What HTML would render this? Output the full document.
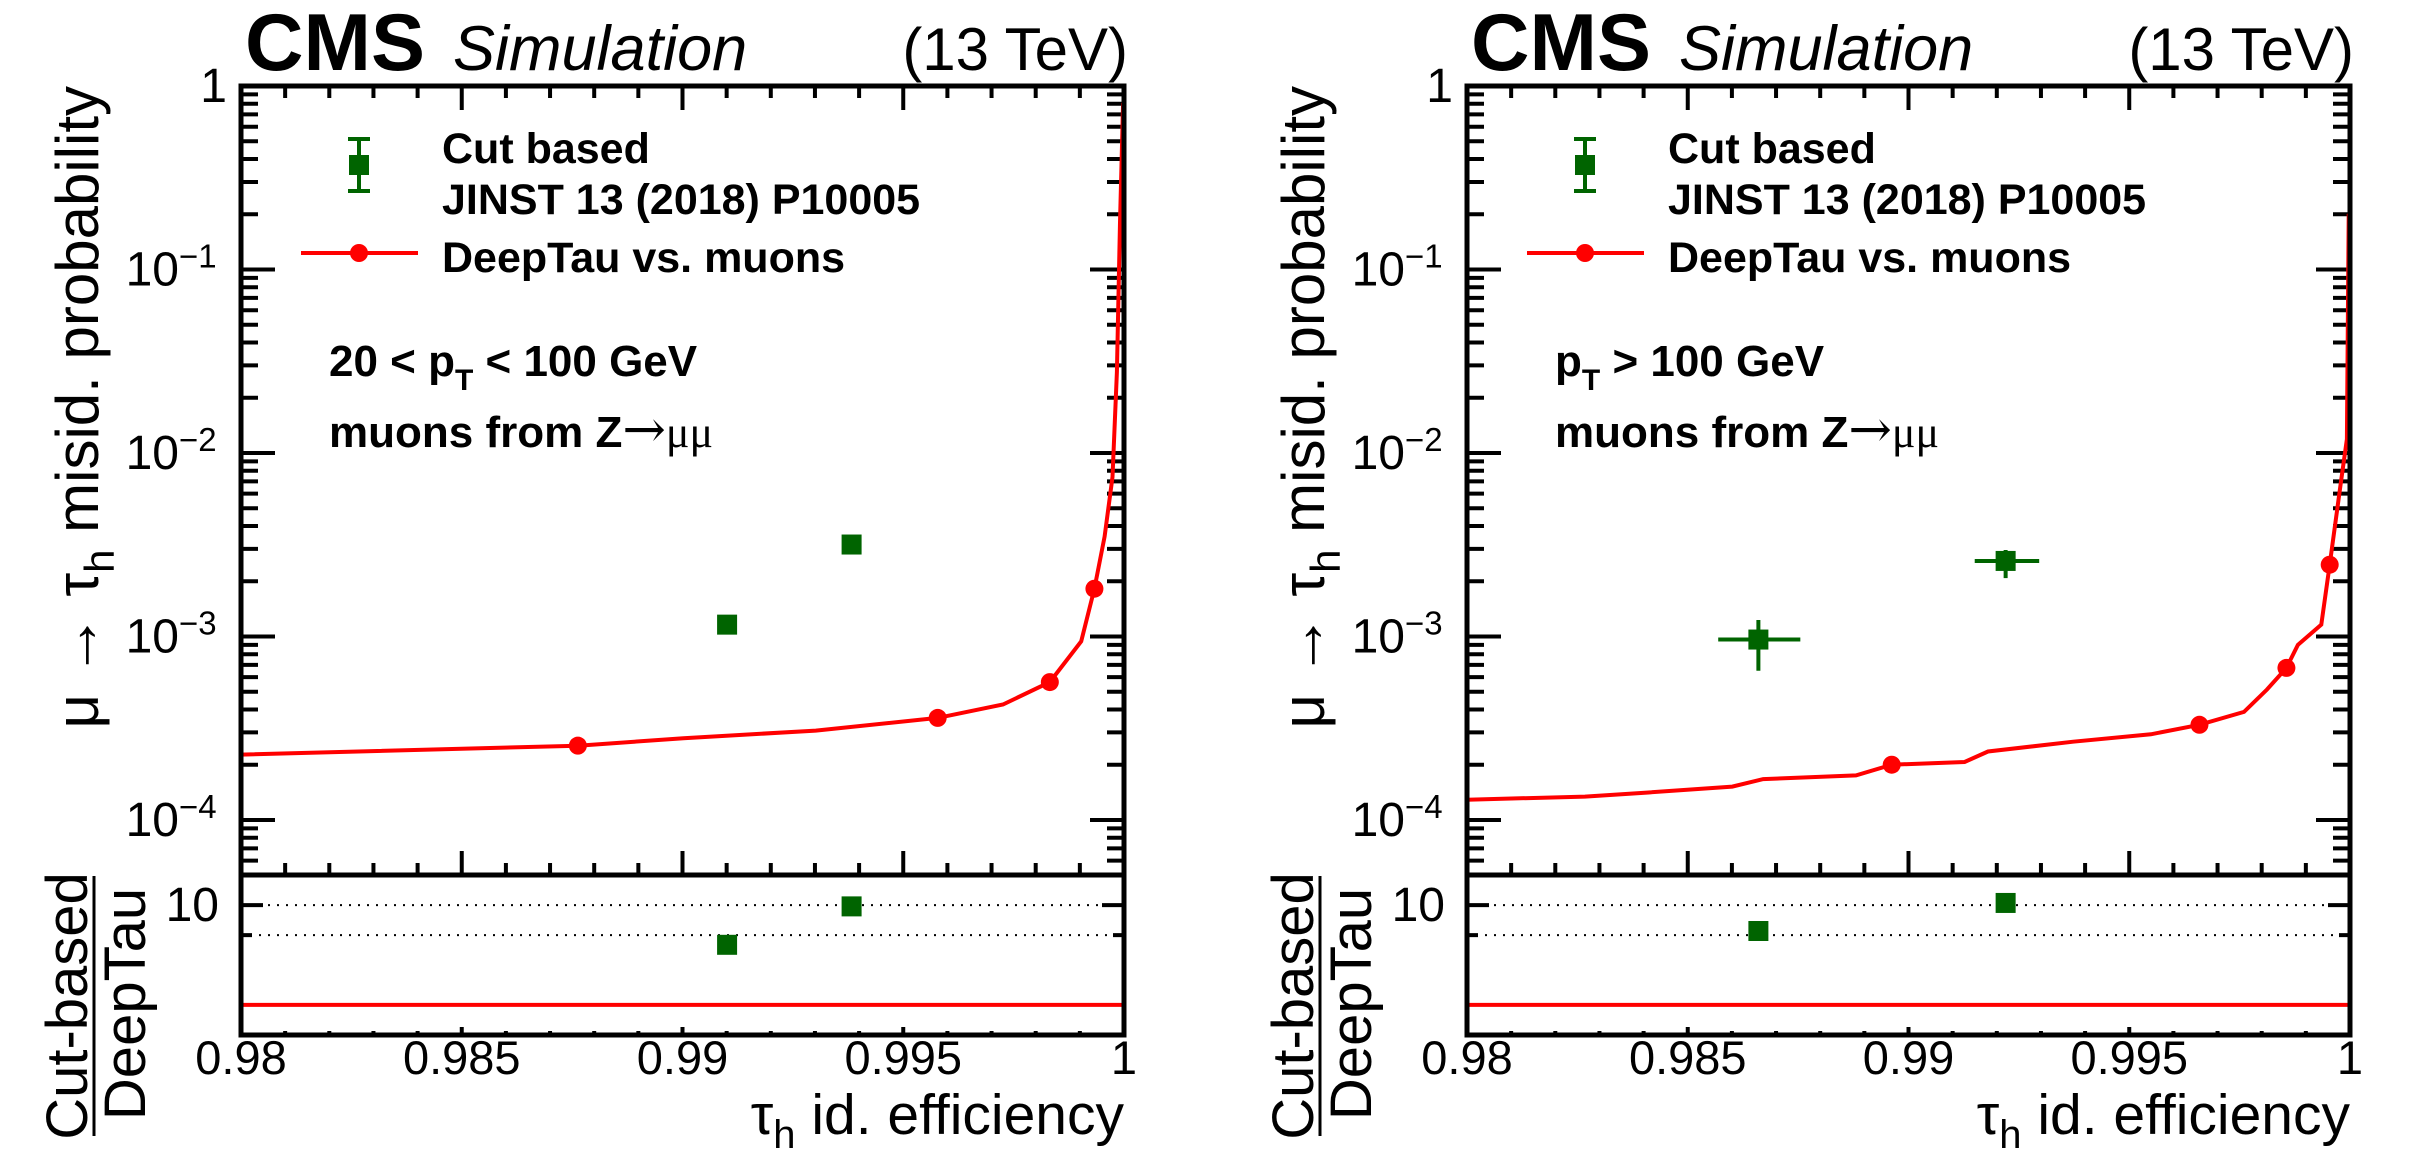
<!DOCTYPE html>
<html><head><meta charset="utf-8"><style>
html,body{margin:0;padding:0;background:#fff;}
svg{display:block;font-family:"Liberation Sans",Arial,sans-serif;}
</style></head>
<body>
<svg id="fig" width="2435" height="1167" viewBox="0 0 2435 1167" xmlns="http://www.w3.org/2000/svg"></svg>
<script>
// ---- data: left panel (20 < pT < 100 GeV)
const leftCurveEff = [0.98,0.98763,0.99002,0.99302,0.99578,0.99726,0.99832,0.99903,0.99933,0.99956,0.99974,0.99984,0.99991,0.99998];
const leftCurveVal = [2.27e-4,2.54e-4,2.79e-4,3.07e-4,3.60e-4,4.26e-4,5.64e-4,9.4e-4,1.82e-3,3.5e-3,7.4e-3,0.0276,0.18,0.81];
const leftMarkEff = [0.98763,0.99578,0.99832,0.99933];
const leftMarkVal = [2.54e-4,3.60e-4,5.64e-4,1.82e-3];
const leftCutEff = [0.99101,0.99383];
const leftCutVal = [1.16e-3,3.17e-3];
const leftCutXLo = [0.99101,0.99383];
const leftCutXHi = [0.99101,0.99383];
const leftCutYLo = [1.16e-3,3.17e-3];
const leftCutYHi = [1.16e-3,3.17e-3];
const leftRatio = [4.0,9.7];
// ---- data: right panel (pT > 100 GeV)
const rightCurveEff = [0.98,0.98267,0.98407,0.98601,0.98671,0.98881,0.98962,0.99127,0.99180,0.99373,0.99549,0.99659,0.99760,0.99812,0.99856,0.99882,0.99935,0.99954,0.99979,0.99993,0.99997,1.0];
const rightCurveVal = [1.29e-4,1.34e-4,1.41e-4,1.52e-4,1.67e-4,1.75e-4,2.0e-4,2.07e-4,2.36e-4,2.67e-4,2.93e-4,3.30e-4,3.88e-4,5.14e-4,6.74e-4,9.0e-4,1.16e-3,2.46e-3,6.8e-3,0.0119,0.198,0.2];
const rightMarkEff = [0.98962,0.99659,0.99856,0.99954];
const rightMarkVal = [2.0e-4,3.30e-4,6.74e-4,2.46e-3];
const rightCutEff = [0.98660,0.99220];
const rightCutVal = [9.62e-4,2.58e-3];
const rightCutXLo = [0.98569,0.99150];
const rightCutXHi = [0.98755,0.99296];
const rightCutYLo = [6.5e-4,2.08e-3];
const rightCutYHi = [1.23e-3,2.96e-3];
const rightRatio = [5.5,10.5];
// ---- axis tick labels
const xTickVals = [0.98,0.985,0.99,0.995,1];
const xTickLabels = ["0.98","0.985","0.99","0.995","1"];
const yDecades = [0,-1,-2,-3,-4];
const ratioLines = [10,5];

const NS="http://www.w3.org/2000/svg";
const svg=document.getElementById('fig');
function mk(tag,attrs,parent){const e=document.createElementNS(NS,tag);for(const k in attrs)e.setAttribute(k,attrs[k]);(parent||svg).appendChild(e);return e;}

const W=883, TOP=86, MB=875, RB=1035;
const Y_MIN=-4.3, Y_MAX=0;
const R_MIN=Math.log10(0.5), R_MAX=Math.log10(20);

function panel(x0,name,curveE,curveV,markE,markV,cutE,cutV,xlo,xhi,ylo,yhi,ratio,ptLabel){
  const g=mk('g',{});
  
  
  const X=e=>x0+(e-0.98)/0.02*W;
  const Y=v=>TOP+(Y_MAX-Math.log10(v))/(Y_MAX-Y_MIN)*(MB-TOP);
  const R=v=>MB+(R_MAX-Math.log10(v))/(R_MAX-R_MIN)*(RB-MB);
  const x1=x0+W;
  // header
  let t=mk('text',{x:x0+4,y:70,'font-size':81,'font-weight':'bold'},g);t.textContent='CMS';
  
  t=mk('text',{x:x0+212,y:70,'font-size':63,'font-style':'italic'},g);t.textContent='Simulation';
  
  t=mk('text',{x:x1+4,y:70,'font-size':60,'text-anchor':'end'},g);t.textContent='(13 TeV)';
  
  // ticks main
  const tk=mk('g',{stroke:'#000','stroke-width':4},g);
  
  for(let d=-5; d<=0; d++){
    for(let m=1;m<=9;m++){
      const v=m*Math.pow(10,d); const lv=Math.log10(v);
      if(lv<Y_MIN-1e-6||lv>Y_MAX+1e-6) continue;
      const y=Y(v); const L=(m===1)?34:17;
      mk('line',{x1:x0,y1:y,x2:x0+L,y2:y},tk);
      mk('line',{x1:x1,y1:y,x2:x1-L,y2:y},tk);
    }
  }
  for(let i=0;i<=20;i++){
    const x=x0+i*W/20; const L=(i%5===0)?24:12;
    mk('line',{x1:x,y1:MB,x2:x,y2:MB-L},tk);
    mk('line',{x1:x,y1:TOP,x2:x,y2:TOP+L},tk);
    mk('line',{x1:x,y1:RB,x2:x,y2:RB-L/3},tk);
  }
  ratioLines.forEach((v,i)=>{
    const y=R(v); const L=i===0?22:11;
    mk('line',{x1:x0,y1:y,x2:x0+L,y2:y},tk);
    mk('line',{x1:x1,y1:y,x2:x1-L,y2:y},tk);
    const dl=mk('line',{x1:x0,y1:y,x2:x1,y2:y,stroke:'#000','stroke-width':2,'stroke-dasharray':'2,7'},g);
    
  });
  // y labels
  yDecades.forEach(d=>{
    const y=Y(Math.pow(10,d));
    const tt=mk('text',{x:x0-14,y:y+16,'font-size':48,'text-anchor':'end'},g);
    
    if(d===0){tt.textContent='1';}
    else{
      tt.setAttribute('x',x0-62);
      tt.textContent='10';
      const s=mk('text',{x:x0-62,y:y-2,'font-size':33,'text-anchor':'start'},g);
      s.textContent='\u2212'+(-d);
      
    }
  });
  t=mk('text',{x:x0-22,y:R(10)+16,'font-size':48,'text-anchor':'end'},g);t.textContent='10';
  
  xTickVals.forEach((v,i)=>{
    const tt=mk('text',{x:X(v),y:1074,'font-size':47,'text-anchor':'middle'},g);
    tt.textContent=xTickLabels[i];
    
  });
  // axis titles
  t=mk('text',{x:x1,y:1134,'font-size':57,'text-anchor':'end'},g);
  t.innerHTML='\u03c4<tspan font-size="40" dy="14">h</tspan><tspan dy="-14"> id. efficiency</tspan>';
  
  t=mk('text',{x:0,y:0,'font-size':60,'text-anchor':'end',transform:`translate(${x0-143},${TOP}) rotate(-90)`},g);
  t.innerHTML='\u03bc <tspan font-size="64">\u2192</tspan> \u03c4<tspan font-size="42" dy="16">h</tspan><tspan dy="-16"> misid. probability</tspan>';
  
  t=mk('text',{x:0,y:0,'font-size':58,'text-anchor':'middle',transform:`translate(${x0-154},1006) rotate(-90)`},g);
  t.textContent='Cut-based';
  mk('line',{x1:x0-147,y1:876,x2:x0-147,y2:1136,stroke:'#000','stroke-width':3},g);
  t=mk('text',{x:0,y:0,'font-size':58,'text-anchor':'middle',transform:`translate(${x0-96},1004) rotate(-90)`},g);
  t.textContent='DeepTau';
  // deeptau curve
  const pts=curveE.map((e,i)=>X(e).toFixed(1)+','+Y(curveV[i]).toFixed(1)).join(' ');
  const pl=mk('polyline',{points:pts,fill:'none',stroke:'#ff0000','stroke-width':4},g);
  
  markE.forEach((e,i)=>{
    const c=mk('circle',{cx:X(e),cy:Y(markV[i]),r:9,fill:'#ff0000'},g);
    
  });
  // cut based points
  cutE.forEach((e,i)=>{
    const cg=mk('g',{stroke:'#006400','stroke-width':4},g);
    
    const cx=X(e), cy=Y(cutV[i]);
    if(xhi[i]>xlo[i]){mk('line',{x1:X(xlo[i]),y1:cy,x2:X(xhi[i]),y2:cy},cg);}
    if(yhi[i]>ylo[i]){mk('line',{x1:cx,y1:Y(ylo[i]),x2:cx,y2:Y(yhi[i])},cg);}
    mk('rect',{x:cx-10,y:cy-10,width:20,height:20,fill:'#006400',stroke:'none'},cg);
    const ry=R(ratio[i]);
    const rr=mk('rect',{x:cx-10,y:ry-10,width:20,height:20,fill:'#006400'},g);
    
  });
  const rl=mk('line',{x1:x0,y1:R(1),x2:x1,y2:R(1),stroke:'#ff0000','stroke-width':4},g);
  
  // frames
  let f=mk('rect',{x:x0,y:TOP,width:W,height:MB-TOP,fill:'none',stroke:'#000','stroke-width':5},g);
  
  f=mk('rect',{x:x0,y:MB,width:W,height:RB-MB,fill:'none',stroke:'#000','stroke-width':5},g);
  
  // legend
  const lg=mk('g',{},g);
  const lx=x0+118;
  const e1=mk('g',{stroke:'#006400','stroke-width':4},lg);
  
  mk('line',{x1:lx,y1:138,x2:lx,y2:192},e1);mk('line',{x1:lx-11,y1:139,x2:lx+11,y2:139},e1);mk('line',{x1:lx-11,y1:191,x2:lx+11,y2:191},e1);
  mk('rect',{x:lx-10,y:155,width:20,height:20,fill:'#006400',stroke:'none'},e1);
  t=mk('text',{x:x0+201,y:163,'font-size':43,'font-weight':'bold'},lg);t.textContent='Cut based';
  
  t=mk('text',{x:x0+201,y:214,'font-size':43,'font-weight':'bold'},lg);t.textContent='JINST 13 (2018) P10005';
  
  const e2=mk('g',{},lg);
  mk('line',{x1:x0+60,y1:253,x2:x0+177,y2:253,stroke:'#ff0000','stroke-width':4},e2);
  mk('circle',{cx:lx,cy:253,r:9,fill:'#ff0000'},e2);
  t=mk('text',{x:x0+201,y:272,'font-size':43,'font-weight':'bold'},lg);t.textContent='DeepTau vs. muons';
  
  // annotation
  t=mk('text',{x:x0+88,y:376,'font-size':44,'font-weight':'bold'},g);t.innerHTML=ptLabel;
  
  t=mk('text',{x:x0+88,y:447,'font-size':44,'font-weight':'bold'},g);
  t.innerHTML='muons from Z<tspan font-weight="normal" font-size="52" font-family="DejaVu Serif, serif">\u2192</tspan><tspan font-weight="normal" font-family="Liberation Serif, serif">\u03bc\u03bc</tspan>';
  
}
panel(241,'left-panel',leftCurveEff,leftCurveVal,leftMarkEff,leftMarkVal,leftCutEff,leftCutVal,leftCutXLo,leftCutXHi,leftCutYLo,leftCutYHi,leftRatio,
 '20 &lt; p<tspan font-size="30" dy="14">T</tspan><tspan dy="-14"> &lt; 100 GeV</tspan>');
panel(1467,'right-panel',rightCurveEff,rightCurveVal,rightMarkEff,rightMarkVal,rightCutEff,rightCutVal,rightCutXLo,rightCutXHi,rightCutYLo,rightCutYHi,rightRatio,
 'p<tspan font-size="30" dy="14">T</tspan><tspan dy="-14"> &gt; 100 GeV</tspan>');
</script>
</body></html>
